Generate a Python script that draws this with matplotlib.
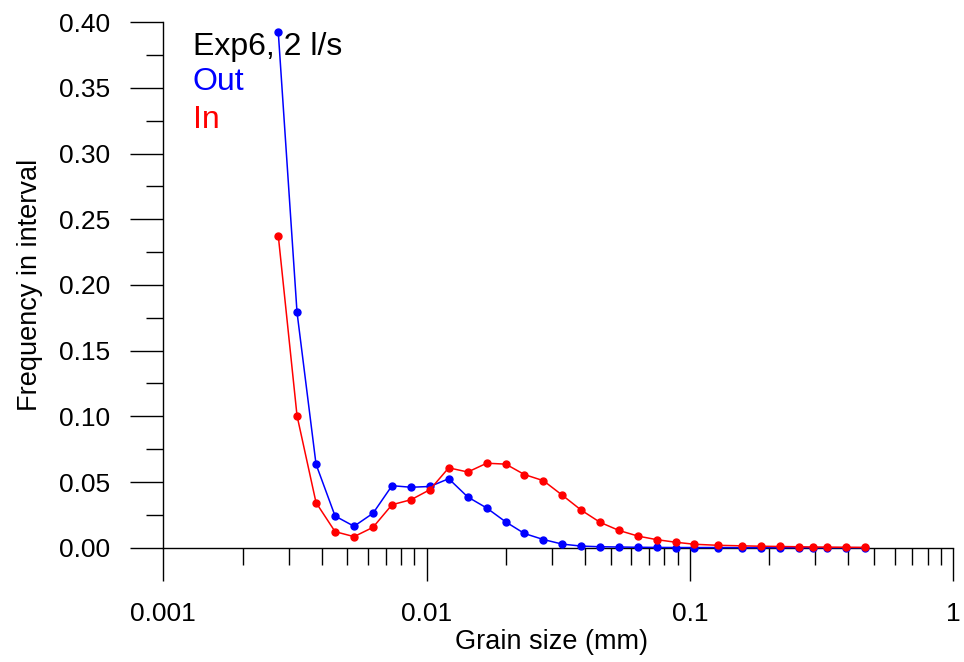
import matplotlib
matplotlib.use("Agg")
import matplotlib.pyplot as plt
from matplotlib.ticker import FixedLocator, NullFormatter

plt.rcParams['font.family'] = ['Liberation Sans', 'DejaVu Sans']

# Grain size class centres (mm)
grain_size = [0.002734, 0.003221, 0.003804, 0.004493, 0.005303, 0.006262,
              0.007393, 0.008731, 0.01031, 0.01214, 0.01434, 0.01693,
              0.02000, 0.02353, 0.02779, 0.03281, 0.03874, 0.04563,
              0.05387, 0.06362, 0.07491, 0.08869, 0.1041, 0.1281,
              0.1576, 0.1861, 0.2197, 0.2595, 0.2948, 0.3323,
              0.3925, 0.4634]

# Frequency in each size interval, outlet sample
freq_out = [0.3924, 0.1792, 0.0635, 0.0241, 0.0163, 0.0262,
            0.0472, 0.0460, 0.0466, 0.0525, 0.0386, 0.0302,
            0.0196, 0.0108, 0.0062, 0.0027, 0.0012, 0.0007,
            0.0005, 0.0003, 0.0002, 0.0001, 0.0001, 0.0001,
            0.0, 0.0, 0.0, 0.0, 0.0, 0.0,
            0.0, 0.0]

# Frequency in each size interval, inlet sample
freq_in = [0.2375, 0.1005, 0.0343, 0.0122, 0.0084, 0.0155,
           0.0327, 0.0365, 0.0442, 0.0608, 0.0576, 0.0643,
           0.0636, 0.0557, 0.0510, 0.0399, 0.0285, 0.0193,
           0.0131, 0.0088, 0.0061, 0.0041, 0.0026, 0.0018,
           0.0014, 0.0011, 0.0009, 0.0007, 0.0005, 0.0004,
           0.0003, 0.0002]

x_ticks = [0.001, 0.01, 0.1, 1]
x_tick_labels = ["0.001", "0.01", "0.1", "1"]
y_ticks = [0.00, 0.05, 0.10, 0.15, 0.20, 0.25, 0.30, 0.35, 0.40]
y_tick_labels = ["0.00", "0.05", "0.10", "0.15", "0.20", "0.25", "0.30", "0.35", "0.40"]

fig = plt.figure(figsize=(9.64, 6.62), dpi=100)
ax = fig.add_axes([0.1694, 0.1727, 0.8192, 0.7936])

ax.plot(grain_size, freq_out, color='#0000ff', lw=1.1, marker='o', ms=5.0,
        clip_on=False, zorder=3)
ax.plot(grain_size, freq_in, color='#ff0000', lw=1.1, marker='o', ms=5.0,
        clip_on=False, zorder=4)

ax.set_xscale('log')
ax.set_xlim(0.001, 1)
ax.set_ylim(0, 0.40)

ax.xaxis.set_major_locator(FixedLocator(x_ticks))
ax.set_xticklabels(x_tick_labels)
minor_x = [m * 10.0 ** d for d in (-3, -2, -1) for m in range(2, 10)]
ax.xaxis.set_minor_locator(FixedLocator(minor_x))
ax.xaxis.set_minor_formatter(NullFormatter())

ax.set_yticks(y_ticks)
ax.set_yticklabels(y_tick_labels)
ax.yaxis.set_minor_locator(FixedLocator([0.025 + 0.05 * i for i in range(8)]))

for side in ('top', 'right'):
    ax.spines[side].set_visible(False)
for side in ('left', 'bottom'):
    ax.spines[side].set_linewidth(1.0)
    ax.spines[side].set_color('black')

ax.tick_params(which='major', direction='out', length=24, width=1.0,
               color='black', labelsize=19, pad=14)
ax.tick_params(which='minor', direction='out', length=12, width=1.0,
               color='black')
ax.tick_params(axis='x', which='major', pad=15)

ax.set_xlabel("Grain size (mm)", fontsize=19.5)
ax.xaxis.set_label_coords(0.4915, -0.154)
ax.set_ylabel("Frequency in interval", fontsize=19.5, labelpad=12)

ax.text(0.0372, 0.9378, "Exp6, 2 l/s", transform=ax.transAxes,
        fontsize=23, color='black', va='baseline', ha='left', zorder=5)
ax.text(0.0372, 0.8711, "Out", transform=ax.transAxes,
        fontsize=23, color='#0000ff', va='baseline', ha='left')
ax.text(0.0372, 0.7994, "In", transform=ax.transAxes,
        fontsize=23, color='#ff0000', va='baseline', ha='left')

fig.savefig("out.png", dpi=100)
